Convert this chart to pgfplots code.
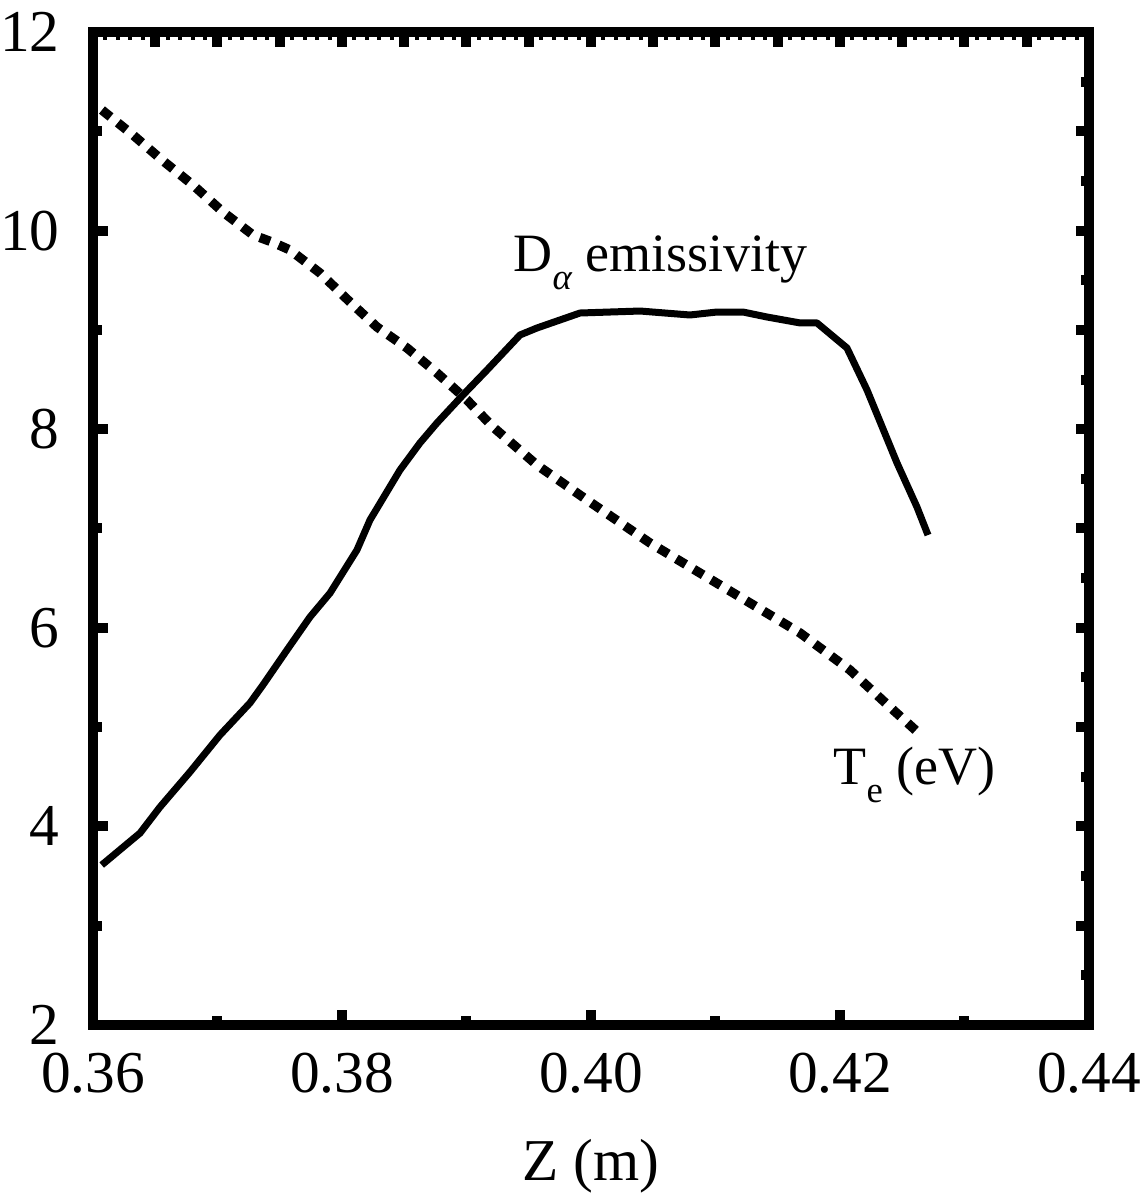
\documentclass[border=0pt]{standalone}
\usepackage{fontspec}
\setmainfont{Liberation Serif}
\usepackage{pgfplots}
\pgfplotsset{compat=1.18}
\newcommand{\lbl}{\fontsize{17.8pt}{20pt}\selectfont}
\newcommand{\ann}{\fontsize{16.2pt}{18pt}\selectfont}
\begin{document}
\begin{tikzpicture}
\path[use as bounding box] (-27.9pt,-51pt) rectangle (316.2pt,307.5pt);
\pgfplotsset{
  base/.style={
    scale only axis, width=298.8pt, height=297.9pt,
    xmin=0.36, xmax=0.44, ymin=2, ymax=12,
    axis line style={line width=3pt, line cap=rect},
    every tick/.style={black, line width=3pt},
    tick align=inside,
    /pgf/number format/assume math mode=true,
    ticklabel style={font=\lbl},
  }
}
% top ticks
\begin{axis}[base,
  xtick={0.36,0.365,...,0.4401}, xticklabels={},
  minor x tick num=4,
  xtick pos=right, ytick=\empty,
  major tick length=4.5pt, minor tick length=2.4pt,
  minor tick style={line width=1.2pt},
]
\end{axis}
% right ticks
\begin{axis}[base,
  ytick={2,3,...,12}, yticklabels={},
  minor y tick num=1,
  ytick pos=right, xtick=\empty,
  major tick length=3.9pt, minor tick length=2.4pt,
]
\end{axis}
% main axis: bottom and left
\begin{axis}[base,
  xtick={0.36,0.38,0.40,0.42,0.44},
  xticklabels={0.36,0.38,0.40,0.42,0.44},
  ytick={2,4,6,8,10,12},
  yticklabels={2,4,6,8,10,12},
  minor x tick num=1, minor y tick num=1,
  xtick pos=left, ytick pos=left,
  major tick length=4.5pt, minor tick length=2.8pt,
  xticklabel style={yshift=-4.8pt},
  yticklabel style={xshift=-6.5pt},
  xlabel={\lbl Z (m)},
  xlabel style={yshift=-7pt},
  clip=false,
]
\addplot[black, line width=2.1pt, line join=round] coordinates {
(0.36070,3.611)(0.36378,3.933)(0.36538,4.195)(0.36779,4.548)(0.37020,4.920)
(0.37261,5.243)(0.37365,5.424)(0.37558,5.776)(0.37743,6.109)(0.37904,6.350)
(0.38120,6.783)(0.38225,7.086)(0.38466,7.589)(0.38626,7.861)(0.38763,8.063)
(0.38972,8.345)(0.39165,8.596)(0.39430,8.949)(0.39566,9.019)(0.39912,9.170)
(0.40394,9.190)(0.40795,9.150)(0.41012,9.180)(0.41221,9.180)(0.41413,9.130)
(0.41679,9.070)(0.41815,9.070)(0.42056,8.818)(0.42217,8.395)(0.42458,7.660)
(0.42618,7.217)(0.42707,6.934)
};
\addplot[black, line width=2.8pt, dash pattern=on 3.3pt off 2.8pt] coordinates {
(0.36072,11.214)(0.36321,10.963)(0.36554,10.711)(0.36803,10.459)(0.37044,10.187)
(0.37285,9.956)(0.37438,9.885)(0.37582,9.805)(0.37823,9.573)(0.38064,9.281)
(0.38281,9.029)(0.38522,8.818)(0.38763,8.566)(0.39004,8.294)(0.39213,8.022)
(0.39566,7.639)(0.39968,7.287)(0.40474,6.854)(0.40875,6.552)(0.41277,6.250)
(0.41679,5.948)(0.42080,5.575)(0.42401,5.202)(0.42659,4.910)
};
\node[anchor=base west, inner sep=0pt, font=\ann] at (axis cs:0.39373,9.583)
  {D\raisebox{-0.32em}{\fontsize{11pt}{11pt}\selectfont\itshape α} emissivity};
\node[anchor=base west, inner sep=0pt, font=\ann] at (axis cs:0.41944,4.417)
  {T\raisebox{-0.32em}{\fontsize{11pt}{11pt}\selectfont e} (eV)};
\end{axis}
\end{tikzpicture}
\end{document}
